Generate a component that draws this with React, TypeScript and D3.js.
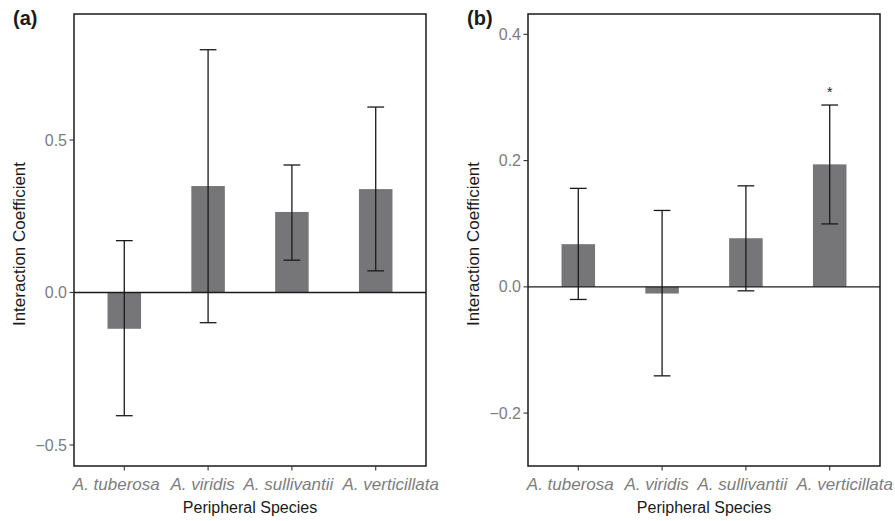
import * as d3 from "d3";

const species = ["A. tuberosa", "A. viridis", "A. sullivantii", "A. verticillata"];

// panel (a)
const estA = [-0.119, 0.349, 0.264, 0.339];
const lowA = [-0.404, -0.099, 0.106, 0.071];
const highA = [0.17, 0.796, 0.418, 0.608];
const ticksA = [-0.5, 0.0, 0.5];

// panel (b)
const estB = [0.0676, -0.0106, 0.077, 0.194];
const lowB = [-0.02, -0.141, -0.0063, 0.0997];
const highB = [0.156, 0.121, 0.16, 0.288];
const ticksB = [-0.2, 0.0, 0.2, 0.4];
const starsB = ["", "", "", "*"];

const FONT = "'Liberation Sans', Arial, Helvetica, sans-serif";
const TOP = 14;
const BOTTOM = 466;
const PANEL_W = 352;
// the x labels in the original sit a little off their ticks
const LABEL_NUDGE = [-8, -5.5, -3.5, 15];

function Panel({ left, tag, est, low, high, ticks, domain, stars }) {
  const right = left + PANEL_W;
  const x = d3.scalePoint().domain(species).range([left, right]).padding(0.6);
  const y = d3.scaleLinear().domain(domain).range([BOTTOM, TOP]);
  const step = x.step();
  const barW = step * 0.4;
  const capW = step * 0.2;

  return (
    <g>
      <text x={left - 61} y={25} fontFamily={FONT} fontSize={20} fontWeight="bold" fill="#1a1a1a">
        {tag}
      </text>
      {species.map((s, i) => {
        const cx = x(s);
        const y0 = y(0);
        const yv = y(est[i]);
        return (
          <rect
            key={s}
            x={cx - barW / 2}
            y={Math.min(y0, yv)}
            width={barW}
            height={Math.abs(y0 - yv)}
            fill="#767679"
          />
        );
      })}
      <line x1={left} x2={right} y1={y(0)} y2={y(0)} stroke="#1a1a1a" strokeWidth={1.3} />
      {species.map((s, i) => {
        const cx = x(s);
        return (
          <g key={s} stroke="#1a1a1a" strokeWidth={1.3}>
            <line x1={cx} x2={cx} y1={y(low[i])} y2={y(high[i])} />
            <line x1={cx - capW / 2} x2={cx + capW / 2} y1={y(low[i])} y2={y(low[i])} />
            <line x1={cx - capW / 2} x2={cx + capW / 2} y1={y(high[i])} y2={y(high[i])} />
          </g>
        );
      })}
      {stars &&
        species.map((s, i) =>
          stars[i] ? (
            <text
              key={s}
              x={x(s)}
              y={y(high[i]) - 8}
              textAnchor="middle"
              fontFamily={FONT}
              fontSize={14}
              fill="#1a1a1a"
            >
              {stars[i]}
            </text>
          ) : null
        )}
      <rect
        x={left}
        y={TOP}
        width={PANEL_W}
        height={BOTTOM - TOP}
        fill="none"
        stroke="#1a1a1a"
        strokeWidth={1.5}
      />
      {ticks.map((t) => (
        <g key={t}>
          <line x1={left - 4.5} x2={left} y1={y(t)} y2={y(t)} stroke="#333" strokeWidth={1.1} />
          <text
            x={left - 7}
            y={y(t)}
            dy="0.35em"
            textAnchor="end"
            fontFamily={FONT}
            fontSize={16}
            fill="#7d7d7d"
          >
            {t === 0 ? "0.0" : d3.format(".1f")(t).replace("-", "\u2212")}
          </text>
        </g>
      ))}
      {species.map((s, i) => (
        <g key={s}>
          <line x1={x(s)} x2={x(s)} y1={BOTTOM} y2={BOTTOM + 4.5} stroke="#333" strokeWidth={1.1} />
          <text
            x={x(s) + LABEL_NUDGE[i]}
            y={490}
            textAnchor="middle"
            fontFamily={FONT}
            fontSize={17}
            fontStyle="italic"
            fill="#7d7d7d"
          >
            {s}
          </text>
        </g>
      ))}
      <text
        x={(left + right) / 2}
        y={513}
        textAnchor="middle"
        fontFamily={FONT}
        fontSize={16}
        fill="#1a1a1a"
      >
        Peripheral Species
      </text>
      <text
        transform={`translate(${left - 55},${(TOP + BOTTOM) / 2 + 4}) rotate(-90)`}
        dy="0.35em"
        textAnchor="middle"
        fontFamily={FONT}
        fontSize={17}
        fill="#1a1a1a"
      >
        Interaction Coefficient
      </text>
    </g>
  );
}

export default function App() {
  return (
    <svg
      width={895}
      height={521}
      style={{ position: "absolute", left: 0, top: 0, background: "#fff" }}
    >
      <Panel
        left={74}
        tag="(a)"
        est={estA}
        low={lowA}
        high={highA}
        ticks={ticksA}
        domain={[-0.5689, 0.9131]}
        stars={null}
      />
      <Panel
        left={528}
        tag="(b)"
        est={estB}
        low={lowB}
        high={highB}
        ticks={ticksB}
        domain={[-0.2838, 0.4322]}
        stars={starsB}
      />
    </svg>
  );
}
